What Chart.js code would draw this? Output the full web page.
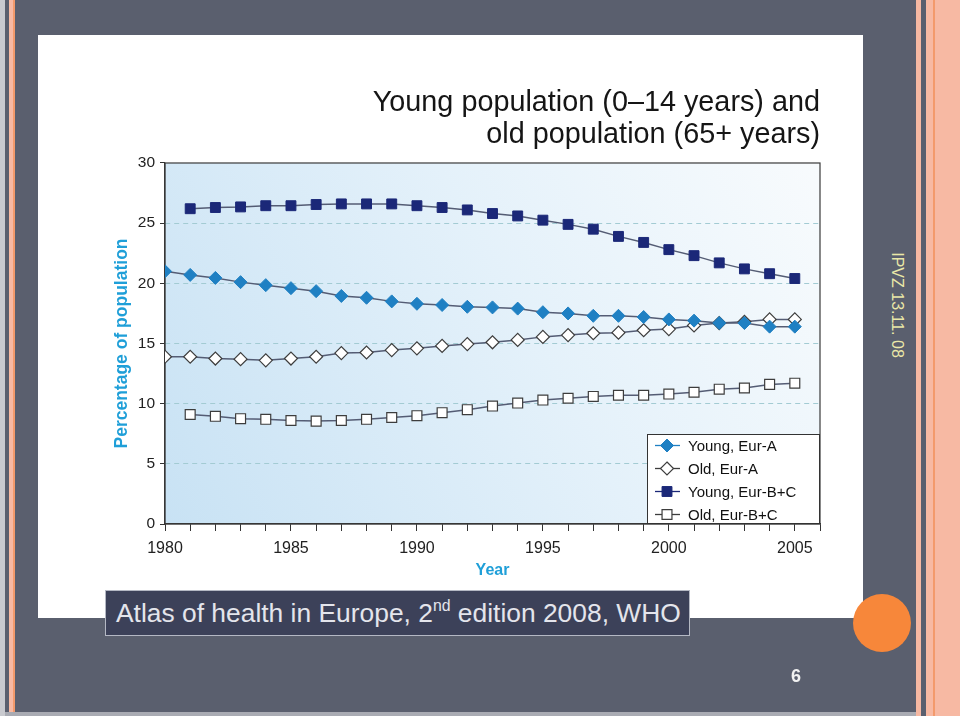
<!DOCTYPE html>
<html>
<head>
<meta charset="utf-8">
<title>Young and old population</title>
<script src="https://cdn.jsdelivr.net/npm/chart.js@4.4.0/dist/chart.umd.min.js"></script>
<style>
  html, body { margin: 0; padding: 0; }
  body {
    width: 960px; height: 716px; position: relative; overflow: hidden;
    background: #5a5f6e;
    font-family: "Liberation Sans", Arial, sans-serif;
  }
  .stripe { position: absolute; top: 0; bottom: 0; }
  #panel { position: absolute; left: 38px; top: 35px; width: 825px; height: 583px; background: #fff; }
  #caption {
    position: absolute; left: 105px; top: 590px; width: 573px; height: 44px;
    padding-left: 10px; background: #3c4159; border: 1px solid #b4b8c4;
    color: #e4e5ec; font-size: 26.4px; line-height: 44px; white-space: nowrap;
  }
  #caption sup { font-size: 0.6em; vertical-align: 0.7em; line-height: 0; }
  #dot { position: absolute; left: 853px; top: 594px; width: 58px; height: 58px; border-radius: 50%; background: #f7873a; }
  #stamp {
    position: absolute; left: 897px; top: 305px; transform: translate(-50%, -50%) rotate(90deg);
    color: #eae8a8; font-size: 16px; white-space: nowrap;
  }
  #pagenum { position: absolute; left: 791px; top: 666px; color: #f2f2f2; font-size: 18px; font-weight: bold; }
  #bottomline { position: absolute; left: 5px; width: 911px; top: 712px; height: 4px; background: #a9abb3; }
</style>
</head>
<body>
<div class="stripe" style="left:0;width:5px;background:#c9cacf"></div>
<div class="stripe" style="left:9px;width:4px;background:#f7b9a3"></div>
<div class="stripe" style="left:13px;width:2px;background:#f39a6c"></div>
<div class="stripe" style="left:916px;width:5px;background:#f6b8a2"></div>
<div class="stripe" style="left:926px;width:34px;background:#f7b9a3"></div>
<div class="stripe" style="left:933px;width:2px;background:#f39a6c"></div>
<div id="bottomline"></div>

<div id="panel"><canvas id="chart" width="825" height="583"></canvas></div>
<div id="caption">Atlas of health in Europe, 2<sup>nd</sup> edition 2008, WHO</div>
<div id="dot"></div>
<div id="stamp">IPVZ 13.11. 08</div>
<div id="pagenum">6</div>

<script>
const years = [1980, 1981, 1982, 1983, 1984, 1985, 1986, 1987, 1988, 1989, 1990, 1991, 1992,
               1993, 1994, 1995, 1996, 1997, 1998, 1999, 2000, 2001, 2002, 2003, 2004, 2005];

const youngEurA = [21.0, 20.7, 20.45, 20.1, 19.85, 19.6, 19.35, 18.95, 18.8, 18.5, 18.3, 18.2, 18.05,
                   18.0, 17.9, 17.6, 17.5, 17.3, 17.3, 17.2, 17.0, 16.9, 16.7, 16.7, 16.4, 16.4];
const oldEurA = [13.9, 13.9, 13.75, 13.7, 13.6, 13.75, 13.9, 14.2, 14.25, 14.45, 14.6, 14.8, 14.95,
                 15.1, 15.3, 15.55, 15.7, 15.85, 15.9, 16.1, 16.2, 16.5, 16.7, 16.8, 17.0, 17.0];
const youngEurBC = [null, 26.2, 26.3, 26.35, 26.45, 26.45, 26.55, 26.6, 26.6, 26.6, 26.45, 26.3, 26.1,
                    25.8, 25.6, 25.25, 24.9, 24.5, 23.9, 23.4, 22.8, 22.3, 21.7, 21.2, 20.8, 20.4];
const oldEurBC = [null, 9.1, 8.95, 8.75, 8.7, 8.6, 8.55, 8.6, 8.7, 8.85, 9.0, 9.25, 9.5,
                  9.8, 10.05, 10.3, 10.45, 10.6, 10.7, 10.7, 10.8, 10.95, 11.2, 11.3, 11.6, 11.7];

const seriesNames = ["Young, Eur-A", "Old, Eur-A", "Young, Eur-B+C", "Old, Eur-B+C"];
const xTickLabels = [1980, 1985, 1990, 1995, 2000, 2005];
const titleLines = ["Young population (0\u201314 years) and", "old population (65+ years)"];

const LINE = "#545c74";
const CYAN = "#1f9fd8";

Chart.defaults.font.family = '"Liberation Sans", Arial, sans-serif';

function points(values) {
    return years.map((yr, i) => ({ x: yr, y: values[i] }));
}

function drawMarker(ctx, ds, x, y) {
    const r = ds.pointRadius;
    ctx.beginPath();
    if (ds.pointStyle === "rectRot") {
        ctx.moveTo(x, y - r);
        ctx.lineTo(x + r, y);
        ctx.lineTo(x, y + r);
        ctx.lineTo(x - r, y);
        ctx.closePath();
    } else {
        const s = r * Math.SQRT1_2;
        ctx.rect(x - s, y - s, 2 * s, 2 * s);
    }
    ctx.fillStyle = ds.pointBackgroundColor;
    ctx.fill();
    ctx.lineWidth = ds.pointBorderWidth;
    ctx.strokeStyle = ds.pointBorderColor;
    ctx.stroke();
}

const plotBackground = {
    id: "plotBackground",
    beforeDraw(chart) {
        const { ctx, chartArea: a } = chart;
        const g = ctx.createLinearGradient(a.left, a.bottom, a.right, a.top);
        g.addColorStop(0, "#c8e2f4");
        g.addColorStop(0.55, "#e4f1fa");
        g.addColorStop(1, "#f8fbfd");
        ctx.save();
        ctx.fillStyle = g;
        ctx.fillRect(a.left, a.top, a.width, a.height);
        ctx.restore();
    },
    beforeDatasetsDraw(chart) {
        const { ctx, chartArea: a } = chart;
        ctx.save();
        ctx.strokeStyle = "#3a3a3a";
        ctx.lineWidth = 1.2;
        ctx.strokeRect(a.left, a.top, a.width, a.height);
        ctx.restore();
    }
};

const boxLegend = {
    id: "boxLegend",
    afterDatasetsDraw(chart) {
        const { ctx, chartArea: a } = chart;
        const w = 173, h = 90;
        const left = a.right - w, top = a.bottom - h;
        ctx.save();
        ctx.fillStyle = "#fff";
        ctx.fillRect(left, top, w, h);
        ctx.strokeStyle = "#333";
        ctx.lineWidth = 1;
        ctx.strokeRect(left + 0.5, top + 0.5, w - 1, h - 1);
        ctx.font = '15px "Liberation Sans", Arial, sans-serif';
        ctx.textBaseline = "middle";
        chart.data.datasets.forEach((ds, i) => {
            const y = top + 11.5 + i * 23;
            ctx.strokeStyle = ds.pointBorderColor;
            ctx.lineWidth = 1.3;
            ctx.beginPath();
            ctx.moveTo(left + 8, y);
            ctx.lineTo(left + 33, y);
            ctx.stroke();
            drawMarker(ctx, ds, left + 20, y);
            ctx.fillStyle = "#111";
            ctx.fillText(ds.label, left + 41, y + 1);
        });
        ctx.restore();
    }
};

const datasets = [
    { label: seriesNames[0], data: points(youngEurA), pointStyle: "rectRot", pointRadius: 6.5,
      pointBackgroundColor: "#1f80c3", pointBorderColor: "#1f80c3", pointBorderWidth: 1 },
    { label: seriesNames[1], data: points(oldEurA), pointStyle: "rectRot", pointRadius: 6.5,
      pointBackgroundColor: "#ffffff", pointBorderColor: "#3d3d3d", pointBorderWidth: 1.2 },
    { label: seriesNames[2], data: points(youngEurBC), pointStyle: "rect", pointRadius: 7,
      pointBackgroundColor: "#1b2878", pointBorderColor: "#1b2878", pointBorderWidth: 1 },
    { label: seriesNames[3], data: points(oldEurBC), pointStyle: "rect", pointRadius: 7,
      pointBackgroundColor: "#ffffff", pointBorderColor: "#3d3d3d", pointBorderWidth: 1.2 }
].map(ds => ({ ...ds, borderColor: LINE, borderWidth: 1.5, tension: 0, fill: false, spanGaps: false }));

new Chart(document.getElementById("chart"), {
    type: "line",
    data: { datasets },
    options: {
        responsive: false,
        animation: false,
        layout: { padding: { top: 52, right: 43, bottom: 0, left: 0 } },
        plugins: {
            legend: { display: false },
            tooltip: { enabled: false },
            title: {
                display: true,
                text: titleLines,
                align: "end",
                color: "#151515",
                font: { size: 28.8, weight: "normal", lineHeight: 1.111 },
                padding: { top: 0, bottom: 12 }
            }
        },
        scales: {
            x: {
                type: "linear",
                min: 1980,
                max: 2006,
                ticks: {
                    stepSize: 1,
                    autoSkip: false,
                    maxRotation: 0,
                    color: "#222",
                    font: { size: 16 },
                    padding: 8,
                    callback: v => xTickLabels.includes(v) ? String(v) : ""
                },
                grid: { drawOnChartArea: false, tickLength: 7, tickColor: "#333", tickWidth: 1 },
                border: { display: true, color: "#333", width: 1.2 },
                title: {
                    display: true, text: "Year", color: CYAN,
                    font: { size: 16, weight: "bold" }, padding: { top: 0, bottom: 38 }
                },
                afterFit(scale) { scale.height = 94; }
            },
            y: {
                min: 0,
                max: 30,
                ticks: { stepSize: 5, color: "#222", font: { size: 15.5 }, padding: 5 },
                grid: {
                    color: c => (c.tick && c.tick.value > 0 && c.tick.value < 30) ? "#a3cbd3" : "rgba(0,0,0,0)",
                    tickLength: 5, tickColor: "#333", lineWidth: 1
                },
                border: { display: true, color: "#333", width: 1.2, dash: [5, 4] },
                title: {
                    display: true, text: "Percentage of population", color: CYAN,
                    font: { size: 17.5, weight: "bold" }, padding: { top: 74, bottom: 0 }
                },
                afterFit(scale) { scale.width = 127; }
            }
        }
    },
    plugins: [plotBackground, boxLegend]
});
</script>
</body>
</html>
